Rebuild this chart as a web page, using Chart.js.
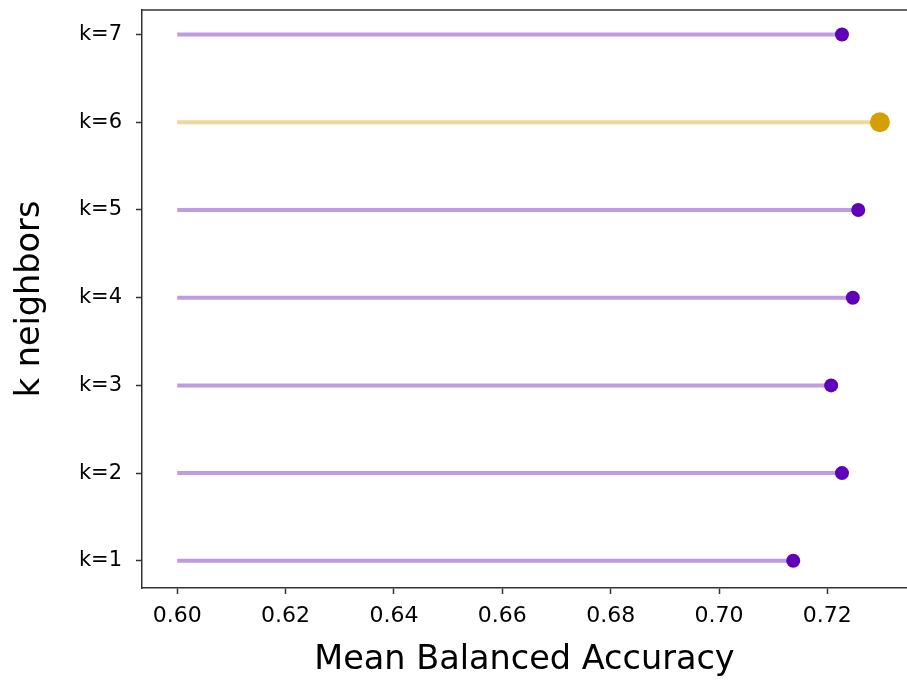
<!DOCTYPE html>
<html>
<head>
<meta charset="utf-8">
<script src="https://cdn.jsdelivr.net/npm/chart.js@4/dist/chart.umd.min.js"></script>
<style>
  html, body { margin: 0; padding: 0; background: #fff; overflow: hidden; }
  canvas { display: block; }
</style>
</head>
<body>
<canvas id="accChart" width="907" height="680"></canvas>
<script>
const neighbors = [1, 2, 3, 4, 5, 6, 7];
const meanAccuracy = [0.7137, 0.7227, 0.7207, 0.7247, 0.7257, 0.7297, 0.7227];
const xTicks = [0.60, 0.62, 0.64, 0.66, 0.68, 0.70, 0.72];
const stemStart = 0.60;

const purple = "#6000b8";
const purpleStem = "#bf9be3";
const gold = "#d49f00";
const goldStem = "#eed89a";
const axisColor = "#333333";

const best = meanAccuracy.indexOf(Math.max(...meanAccuracy));

// one stem per k, from 0.60 out to the score
const stems = neighbors.map((k, i) => ({
    type: "line",
    order: 1,
    data: [{ x: stemStart, y: k }, { x: meanAccuracy[i], y: k }],
    borderColor: i === best ? goldStem : purpleStem,
    borderWidth: 4,
    pointRadius: 0,
    borderCapStyle: "butt",
}));

// dots drawn over the stems
const heads = {
    type: "scatter",
    order: 0,
    data: neighbors.map((k, i) => ({ x: meanAccuracy[i], y: k })),
    pointRadius: neighbors.map((k, i) => (i === best ? 10 : 7)),
    pointBackgroundColor: neighbors.map((k, i) => (i === best ? gold : purple)),
    pointBorderWidth: 0,
};

// matplotlib-style top spine
const topSpine = {
    id: "topSpine",
    afterDraw(chart) {
        const { ctx, chartArea } = chart;
        ctx.save();
        ctx.strokeStyle = axisColor;
        ctx.lineWidth = 1.5;
        ctx.beginPath();
        ctx.moveTo(chartArea.left, chartArea.top);
        ctx.lineTo(chartArea.right, chartArea.top);
        ctx.stroke();
        ctx.restore();
    }
};

new Chart(document.getElementById("accChart"), {
    type: "scatter",
    data: { datasets: [...stems, heads] },
    plugins: [topSpine],
    options: {
        responsive: false,
        animation: false,
        layout: { autoPadding: false, padding: { top: 10, right: 0, left: 0, bottom: 0 } },
        plugins: {
            legend: { display: false },
            tooltip: { enabled: false }
        },
        scales: {
            x: {
                type: "linear",
                min: 0.5935,
                max: 0.7347,
                afterBuildTicks: (scale) => { scale.ticks = xTicks.map((v) => ({ value: v })); },
                afterFit: (scale) => {
                    scale.height = 92;
                    scale.paddingLeft = 0;
                    scale.paddingRight = 0;
                },
                ticks: {
                    color: "#000",
                    font: { family: "DejaVu Sans", size: 22 },
                    padding: 9,
                    maxRotation: 0,
                    callback: (v) => Number(v).toFixed(2)
                },
                grid: { drawOnChartArea: false, drawTicks: true, tickLength: 6, tickColor: axisColor, tickWidth: 1.5 },
                border: { display: true, color: axisColor, width: 1.5 },
                title: {
                    display: true,
                    text: "Mean Balanced Accuracy",
                    color: "#000",
                    font: { family: "DejaVu Sans", size: 33.5 },
                    padding: { top: 8, bottom: 0 }
                }
            },
            y: {
                type: "linear",
                min: 0.69,
                max: 7.28,
                afterBuildTicks: (scale) => { scale.ticks = neighbors.map((v) => ({ value: v })); },
                afterFit: (scale) => {
                    scale.width = 142;
                    scale.paddingTop = 0;
                    scale.paddingBottom = 0;
                },
                ticks: {
                    color: "#000",
                    font: { family: "DejaVu Sans", size: 21 },
                    padding: 14,
                    callback: (v) => "k=" + v
                },
                grid: { drawOnChartArea: false, drawTicks: true, tickLength: 6, tickColor: axisColor, tickWidth: 1.5 },
                border: { display: true, color: axisColor, width: 1.5 },
                title: {
                    display: true,
                    text: "k neighbors",
                    color: "#000",
                    font: { family: "DejaVu Sans", size: 33.5 },
                    padding: { top: 10, bottom: 0 }
                }
            }
        }
    }
});
</script>
</body>
</html>
